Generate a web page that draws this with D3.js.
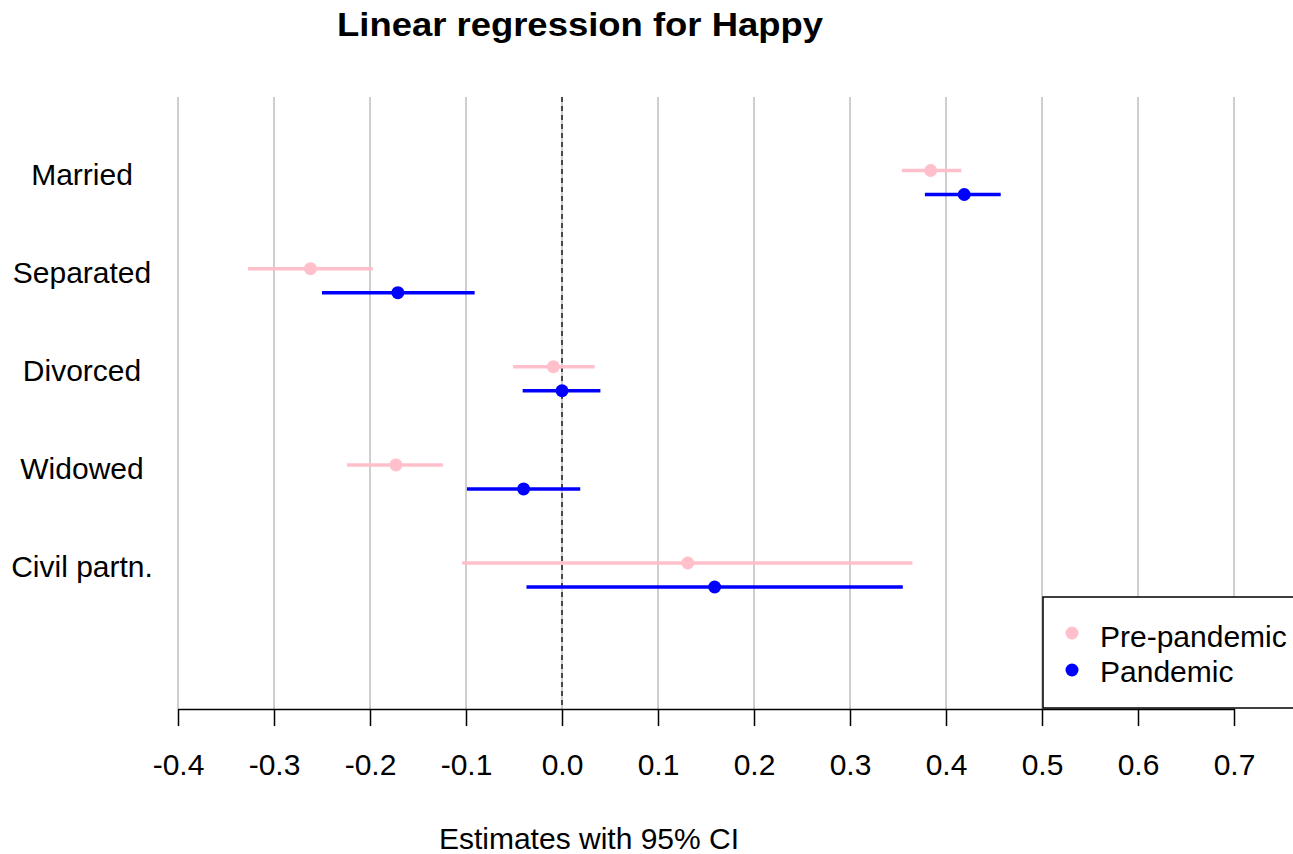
<!DOCTYPE html>
<html lang="en">
	<head>
		<meta charset="utf-8">
		<title>Linear regression for Happy</title>
		<script type="text/javascript" src="https://cdn.jsdelivr.net/npm/d3@7"></script>
		<style type="text/css">
			body { margin: 0; background: #fff; }
			text { font-family: "Liberation Sans", Arial, sans-serif; fill: #000; }
		</style>
	</head>
	<body>
		<script type="text/javascript">

			//Data
			var categories = ["Married", "Separated", "Divorced", "Widowed", "Civil partn."];
			var preEst  = [0.384, -0.262, -0.009, -0.173, 0.131];
			var preLow  = [0.354, -0.327, -0.051, -0.224, -0.104];
			var preHigh = [0.416, -0.197, 0.034, -0.124, 0.365];
			var panEst  = [0.419, -0.171, 0.000, -0.040, 0.159];
			var panLow  = [0.378, -0.250, -0.041, -0.099, -0.037];
			var panHigh = [0.457, -0.091, 0.040, 0.019, 0.355];
			var ticks = [-0.4, -0.3, -0.2, -0.1, 0.0, 0.1, 0.2, 0.3, 0.4, 0.5, 0.6, 0.7];

			var series = [
				{ name: "Pre-pandemic", color: "pink", est: preEst, low: preLow, high: preHigh, off: -12 },
				{ name: "Pandemic", color: "blue", est: panEst, low: panLow, high: panHigh, off: 12 }
			];

			//Width and height
			var w = 1293;
			var h = 854;

			var svg = d3.select("body")
						.append("svg")
						.attr("width", w)
						.attr("height", h);

			var x = d3.scaleLinear()
						.domain([-0.4, 0.7])
						.range([178, 1234]);

			var y = d3.scalePoint()
						.domain(categories)
						.range([182.5, 575]);

			var plotTop = 97, plotBottom = 709;

			//Grid lines
			svg.selectAll("line.grid")
			   .data(ticks)
			   .enter()
			   .append("line")
			   .attr("class", "grid")
			   .attr("x1", d => x(d))
			   .attr("x2", d => x(d))
			   .attr("y1", plotTop)
			   .attr("y2", plotBottom)
			   .attr("stroke", "#bebebe")
			   .attr("stroke-width", 1.5);

			//Zero line
			svg.append("line")
			   .attr("x1", x(0)).attr("x2", x(0))
			   .attr("y1", plotTop).attr("y2", plotBottom)
			   .attr("stroke", "#000")
			   .attr("stroke-width", 1.3)
			   .attr("stroke-dasharray", "5,4");

			//X axis
			var xAxis = d3.axisBottom(x)
						  .tickValues(ticks)
						  .tickSize(17)
						  .tickPadding(0)
						  .tickSizeOuter(0)
						  .tickFormat(d => d.toFixed(1));

			var gx = svg.append("g")
						.attr("transform", "translate(0," + plotBottom + ")")
						.call(xAxis);
			gx.select(".domain").attr("stroke", "#000").attr("stroke-width", 1.5);
			gx.selectAll(".tick line").attr("stroke", "#000").attr("stroke-width", 1.5);
			gx.selectAll(".tick text")
			  .attr("dy", null)
			  .attr("y", 775 - plotBottom)
			  .style("font-family", "'Liberation Sans', Arial, sans-serif")
			  .style("font-size", "30px")
			  .attr("fill", "#000");

			//Category labels
			svg.selectAll("text.cat")
			   .data(categories)
			   .enter()
			   .append("text")
			   .attr("class", "cat")
			   .attr("x", 82)
			   .attr("y", d => y(d) + 2)
			   .attr("text-anchor", "middle")
			   .style("font-size", "30px")
			   .text(d => d);

			//CI lines and points
			series.forEach(function(s) {
				var g = svg.append("g");
				g.selectAll("line")
				 .data(categories)
				 .enter()
				 .append("line")
				 .attr("x1", (d, i) => x(s.low[i]))
				 .attr("x2", (d, i) => x(s.high[i]))
				 .attr("y1", d => y(d) + s.off)
				 .attr("y2", d => y(d) + s.off)
				 .attr("stroke", s.color)
				 .attr("stroke-width", 3.5);
				g.selectAll("circle")
				 .data(categories)
				 .enter()
				 .append("circle")
				 .attr("cx", (d, i) => x(s.est[i]))
				 .attr("cy", d => y(d) + s.off)
				 .attr("r", 6.5)
				 .attr("fill", s.color);
			});

			//Legend
			var lg = svg.append("g").attr("transform", "translate(1043,597)");
			lg.append("rect")
			  .attr("x", 0).attr("y", 0)
			  .attr("width", 270).attr("height", 111)
			  .attr("fill", "#fff")
			  .attr("stroke", "#000")
			  .attr("stroke-width", 1.5);
			series.forEach(function(s, i) {
				lg.append("circle")
				  .attr("cx", 29)
				  .attr("cy", 36 + i * 37)
				  .attr("r", 6.5)
				  .attr("fill", s.color);
				lg.append("text")
				  .attr("x", 57)
				  .attr("y", 50 + i * 35)
				  .style("font-size", "30px")
				  .text(s.name);
			});

			//Title
			svg.append("text")
			   .attr("x", 580)
			   .attr("y", 36)
			   .attr("text-anchor", "middle")
			   .attr("textLength", 486)
			   .attr("lengthAdjust", "spacingAndGlyphs")
			   .style("font-size", "33px")
			   .style("font-weight", "bold")
			   .text("Linear regression for Happy");

			//X label
			svg.append("text")
			   .attr("x", 589)
			   .attr("y", 849)
			   .attr("text-anchor", "middle")
			   .style("font-size", "30px")
			   .text("Estimates with 95% CI");

		</script>
	</body>
</html>
